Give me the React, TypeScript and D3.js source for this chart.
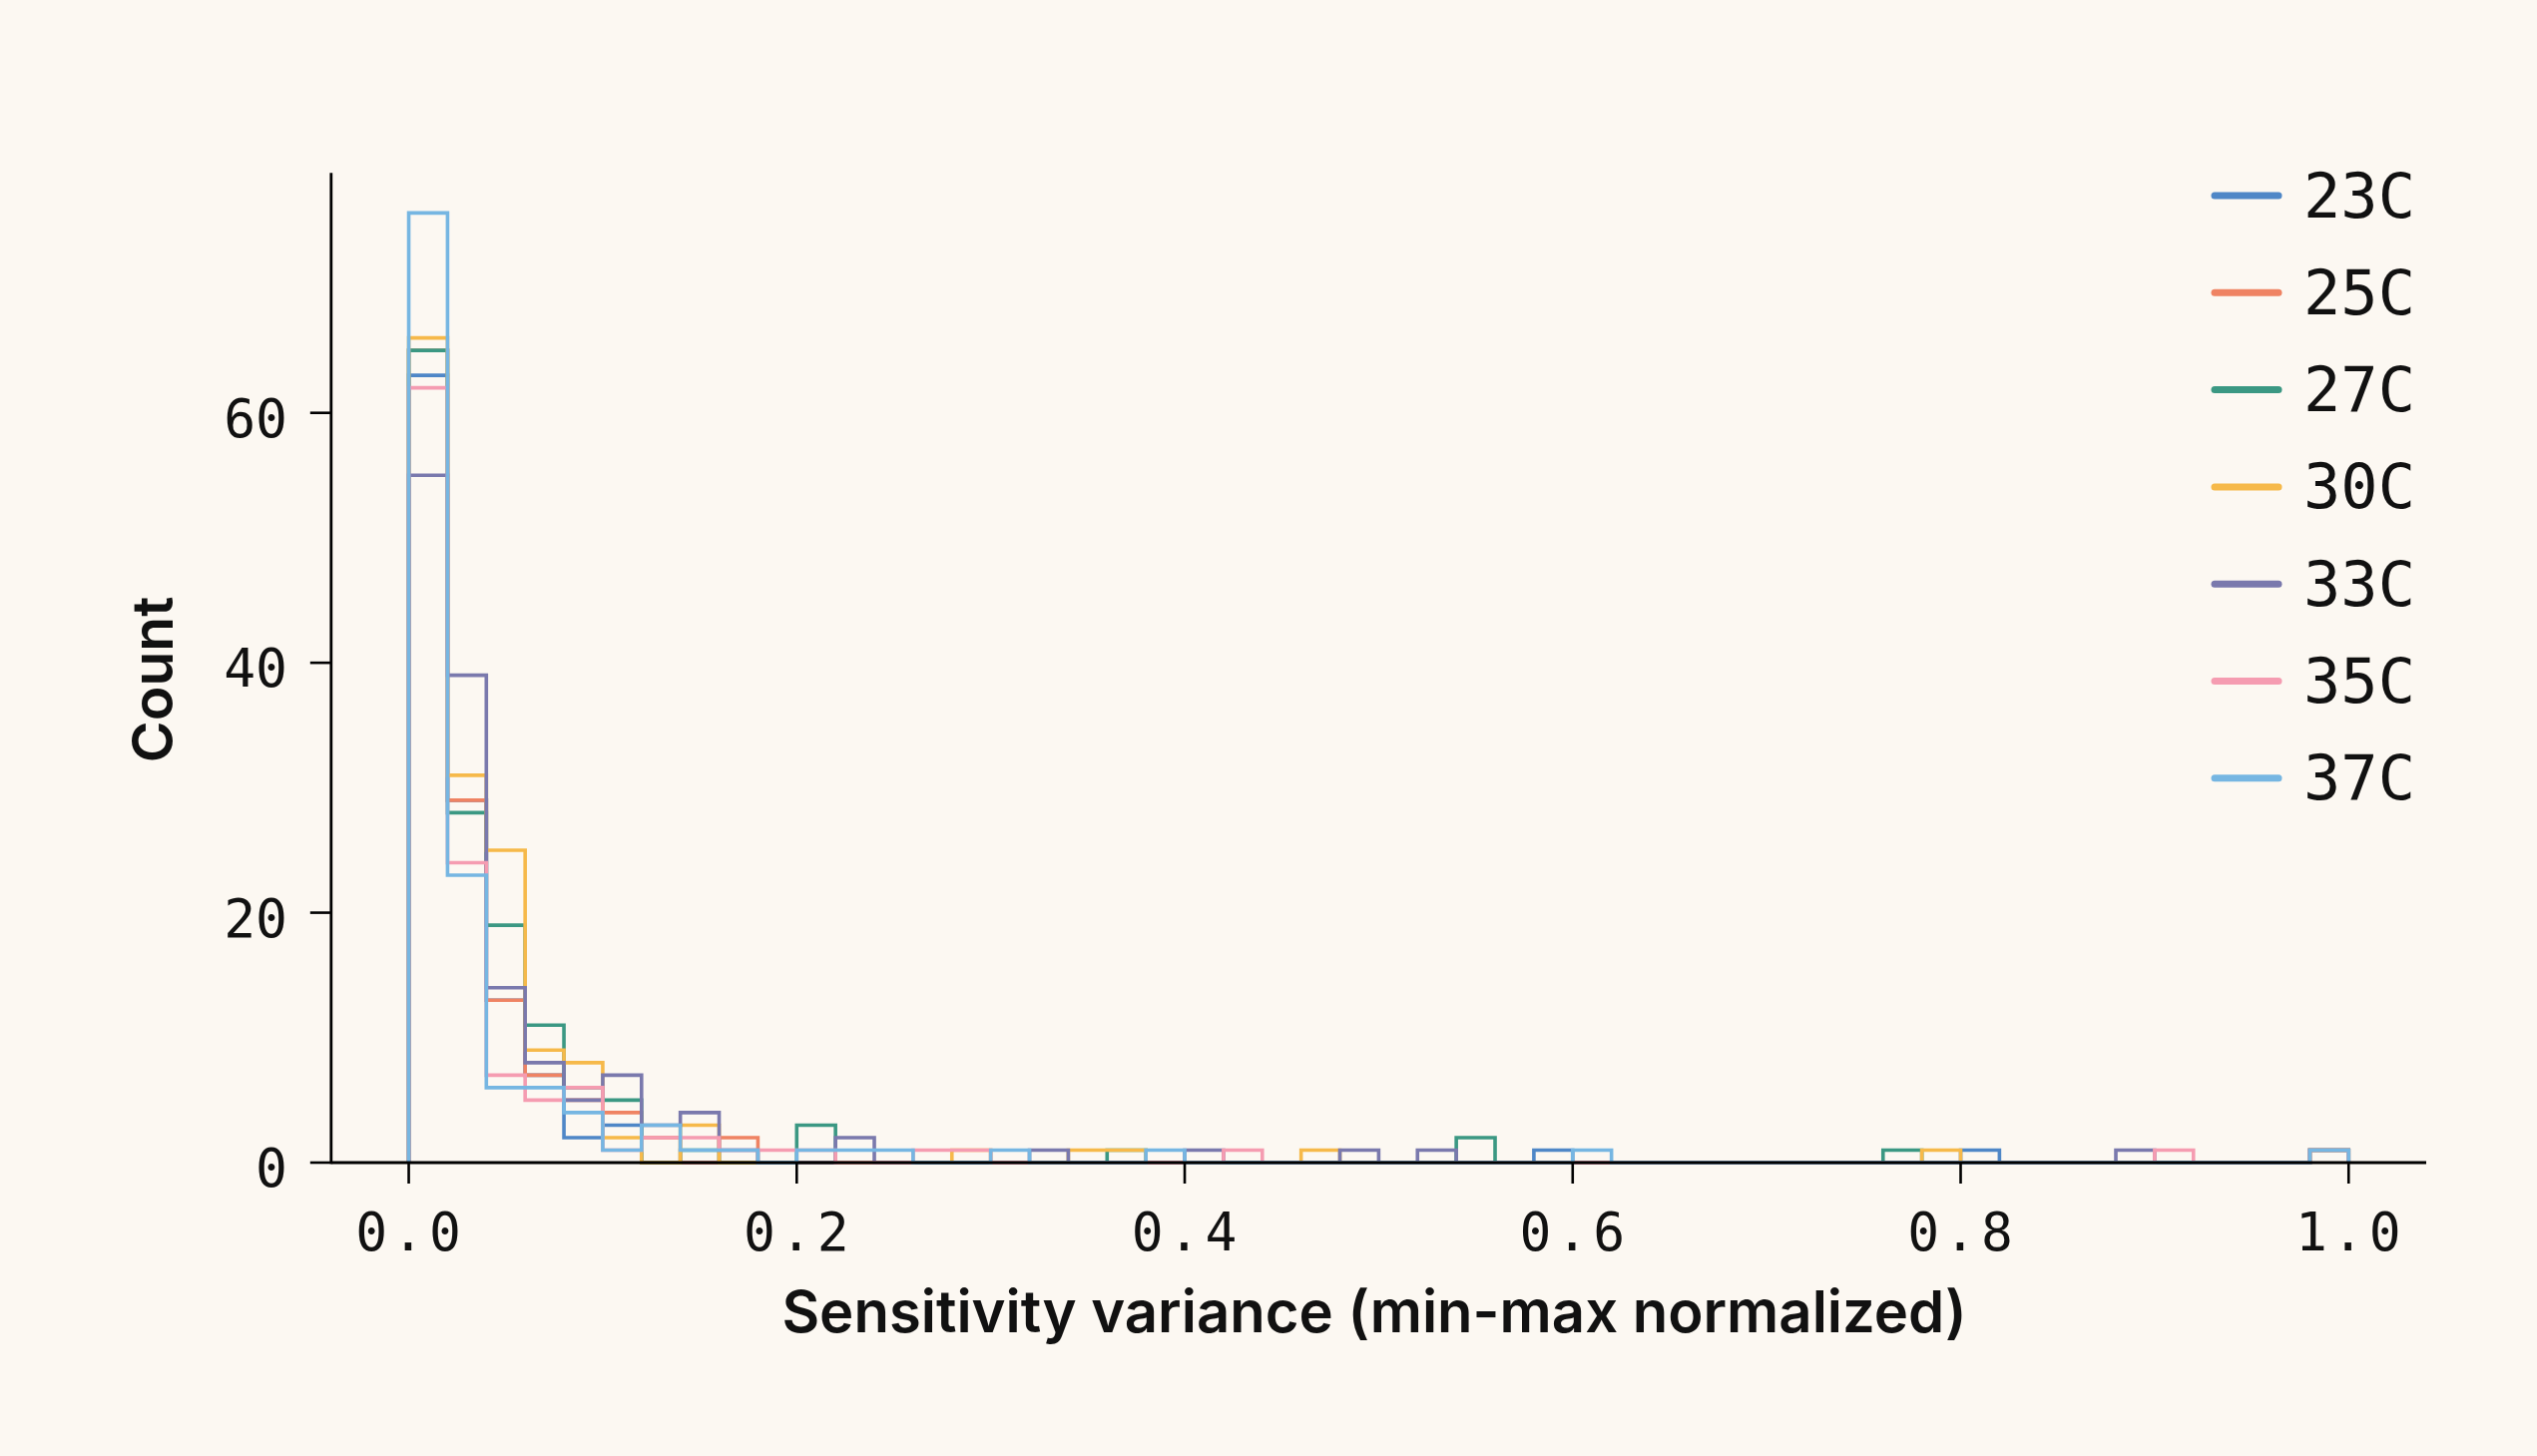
import React from 'react';
import * as d3 from 'd3';

const series = ['23C', '25C', '27C', '30C', '33C', '35C', '37C'];

const colors = ['#4f87c7', '#ef8363', '#3b9883', '#f6b94a', '#7a79ad', '#f59cb1', '#76b6e2'];

// counts per bin (50 bins of width 0.02 over [0, 1])
const c23 = [63, 29, 13, 7, 2, 3, 0, 0, 0, 0, 0, 0, 0, 0, 0, 0, 0, 0, 0, 0, 0, 0, 0, 0, 0, 0, 0, 0, 0, 1, 0, 0, 0, 0, 0, 0, 0, 0, 0, 0, 1, 0, 0, 0, 0, 0, 0, 0, 0, 1];
const c25 = [65, 29, 13, 7, 5, 4, 2, 0, 2, 0, 0, 0, 0, 0, 0, 0, 0, 0, 0, 0, 0, 0, 0, 0, 0, 0, 0, 0, 0, 0, 0, 0, 0, 0, 0, 0, 0, 0, 0, 0, 0, 0, 0, 0, 0, 0, 0, 0, 0, 1];
const c27 = [65, 28, 19, 11, 6, 5, 0, 1, 0, 0, 3, 0, 0, 0, 0, 0, 0, 0, 1, 0, 0, 0, 0, 0, 0, 0, 0, 2, 0, 0, 0, 0, 0, 0, 0, 0, 0, 0, 1, 0, 0, 0, 0, 0, 0, 0, 0, 0, 0, 1];
const c30 = [66, 31, 25, 9, 8, 2, 0, 3, 0, 0, 0, 0, 0, 0, 1, 0, 0, 1, 1, 0, 0, 0, 0, 1, 0, 0, 0, 0, 0, 0, 0, 0, 0, 0, 0, 0, 0, 0, 0, 1, 0, 0, 0, 0, 0, 0, 0, 0, 0, 1];
const c33 = [55, 39, 14, 8, 5, 7, 3, 4, 1, 0, 0, 2, 0, 0, 0, 0, 1, 0, 0, 0, 1, 0, 0, 0, 1, 0, 1, 0, 0, 0, 0, 0, 0, 0, 0, 0, 0, 0, 0, 0, 0, 0, 0, 0, 1, 0, 0, 0, 0, 1];
const c35 = [62, 24, 7, 5, 6, 1, 2, 2, 1, 1, 1, 0, 0, 1, 1, 0, 0, 0, 0, 0, 0, 1, 0, 0, 0, 0, 0, 0, 0, 0, 0, 0, 0, 0, 0, 0, 0, 0, 0, 0, 0, 0, 0, 0, 0, 1, 0, 0, 0, 1];
const c37 = [76, 23, 6, 6, 4, 1, 3, 1, 1, 0, 1, 1, 1, 0, 0, 1, 0, 0, 0, 1, 0, 0, 0, 0, 0, 0, 0, 0, 0, 0, 1, 0, 0, 0, 0, 0, 0, 0, 0, 0, 0, 0, 0, 0, 0, 0, 0, 0, 0, 1];

const counts = [c23, c25, c27, c30, c33, c35, c37];

const xTicks = [0, 0.2, 0.4, 0.6, 0.8, 1.0];
const yTicks = [0, 20, 40, 60];

const W = 2542;
const H = 1459;
const mono = '"DejaVu Sans Mono", monospace';
const sans = 'Inter, "Noto Sans", sans-serif';

export default function App() {
  const x = d3.scaleLinear().domain([-0.04, 1.04]).range([331.8, 2431]);
  const y = d3.scaleLinear().domain([0, 79.2]).range([1165, 173.3]);

  const nBins = c23.length;
  const edges = d3.range(nBins + 1).map(i => i / nBins);

  const line = d3.line<[number, number]>()
    .x(d => x(d[0]))
    .y(d => y(d[1]));

  const stepPath = (vals: number[]) => {
    const pts: [number, number][] = [[edges[0], 0]];
    vals.forEach((v, i) => {
      pts.push([edges[i], v]);
      pts.push([edges[i + 1], v]);
    });
    pts.push([edges[nBins], 0]);
    return line(pts) || '';
  };

  const [x0, x1] = x.range();
  const [y0, y1] = y.range();

  return (
    <svg width={W} height={H} style={{ position: 'absolute', left: 0, top: 0 }}>
      <rect width={W} height={H} fill="#fcf8f2" />

      {counts.map((vals, i) => (
        <path key={series[i]} d={stepPath(vals)} fill="none"
          stroke={colors[i]} strokeWidth={3.6} strokeLinejoin="miter" />
      ))}

      {/* axes */}
      <line x1={x0} x2={x0} y1={y1} y2={y0 + 1.2} stroke="#000" strokeWidth={2.8} />
      <line x1={x0} x2={x1} y1={y0} y2={y0} stroke="#000" strokeWidth={2.8} />

      {xTicks.map(t => (
        <g key={t}>
          <line x1={x(t)} x2={x(t)} y1={y0} y2={y0 + 21} stroke="#000" strokeWidth={2.6} />
          <text x={x(t) + 2} y={1253} textAnchor="middle" fontFamily={mono}
            fontSize={53} letterSpacing={5} fill="#111">{t.toFixed(1)}</text>
        </g>
      ))}

      {yTicks.map(t => (
        <g key={t}>
          <line x1={x0 - 21} x2={x0} y1={y(t)} y2={y(t)} stroke="#000" strokeWidth={2.6} />
          <text x={288} y={y(t) + 24} textAnchor="end" fontFamily={mono}
            fontSize={53} fill="#111">{t}</text>
        </g>
      ))}

      <text x={1377} y={1335} textAnchor="middle" fontFamily={sans} fontWeight={600}
        fontSize={58} fill="#111">Sensitivity variance (min-max normalized)</text>
      <text transform={`translate(173, 681) rotate(-90)`} textAnchor="middle"
        fontFamily={sans} fontWeight={600} fontSize={57} fill="#111">Count</text>

      {/* legend */}
      {series.map((s, i) => {
        const ly = 196 + i * 97.3;
        return (
          <g key={s}>
            <line x1={2219} x2={2283} y1={ly} y2={ly} stroke={colors[i]}
              strokeWidth={7} strokeLinecap="round" />
            <text x={2308} y={ly} dominantBaseline="central" fontFamily={mono}
              fontSize={62} fill="#111">{s}</text>
          </g>
        );
      })}
    </svg>
  );
}
